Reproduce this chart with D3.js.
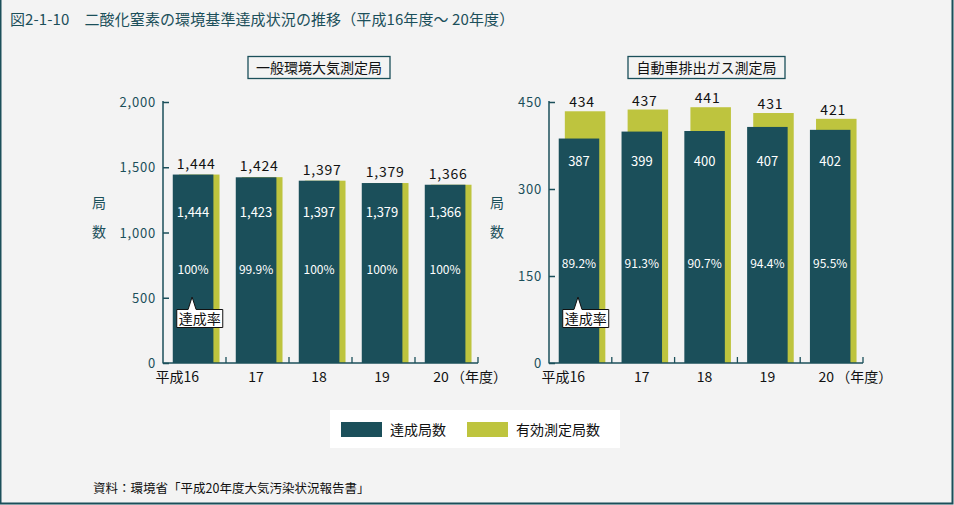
<!DOCTYPE html>
<html><head><meta charset="utf-8">
<script src="https://cdn.jsdelivr.net/npm/d3@7"></script>
<style>
html,body{margin:0;padding:0;background:#f3f3f3;}
svg{display:block;font-family:"Noto Sans CJK JP","Noto Sans",sans-serif;}
</style></head>
<body><svg id="c" width="954" height="505"></svg>
<script>
const years = ["平成16","17","18","19","20"];
const generalValid = [1444,1424,1397,1379,1366];
const generalAchieved = [1444,1423,1397,1379,1366];
const generalRate = ["100%","99.9%","100%","100%","100%"];
const roadValid = [434,437,441,431,421];
const roadAchieved = [387,399,400,407,402];
const roadRate = ["89.2%","91.3%","90.7%","94.4%","95.5%"];
const generalTicks = [0,500,1000,1500,2000];
const roadTicks = [0,150,300,450];

const TEAL = "#1b4f5a", YEL = "#bec43e";
const svg = d3.select("#c");
svg.append("rect").attr("x",0).attr("y",0).attr("width",954).attr("height",505).attr("fill","#f3f3f3");
// border left/right/bottom
svg.append("path").attr("d","M0.5,0 V503.5 H952.5 V0").attr("fill","none").attr("stroke",TEAL).attr("stroke-width",2);

svg.append("text").attr("x",10).attr("y",25).attr("font-size",15).attr("fill",TEAL).attr("letter-spacing",0.1)
  .text("図2-1-10　二酸化窒素の環境基準達成状況の推移（平成16年度～ 20年度）");

function panel(o){
  const g = svg.append("g");
  const x = d3.scaleBand().domain(years).range([o.x0, o.x1]).padding(0);
  const y = d3.scaleLinear().domain([0,o.max]).range([363,102]);
  const bw = x.bandwidth();
  const off = bw*0.155, w = bw*0.645, shift = bw*0.097;
  // panel title box
  g.append("rect").attr("x",o.tx-o.tw/2).attr("y",56.5).attr("width",o.tw).attr("height",22)
    .attr("fill","none").attr("stroke",TEAL).attr("stroke-width",1.3);
  g.append("text").attr("x",o.tx).attr("y",73).attr("text-anchor","middle").attr("font-size",14).attr("fill","#111").text(o.title);
  // y axis label
  g.append("text").attr("x",o.lx).attr("y",208).attr("text-anchor","middle").attr("font-size",14).attr("fill",TEAL).text("局");
  g.append("text").attr("x",o.lx).attr("y",237).attr("text-anchor","middle").attr("font-size",14).attr("fill",TEAL).text("数");
  // bars
  years.forEach((yr,i)=>{
    const bx = x(yr)+off;
    g.append("rect").attr("x",bx+shift).attr("y",y(o.valid[i])).attr("width",w).attr("height",363-y(o.valid[i])).attr("fill",YEL);
    g.append("rect").attr("x",bx).attr("y",y(o.ach[i])).attr("width",w).attr("height",363-y(o.ach[i])).attr("fill",TEAL);
    g.append("text").attr("x",bx+(w+shift)/2).attr("y",y(o.valid[i])-o.topGap).attr("text-anchor","middle").attr("font-size",14).attr("fill","#111")
      .attr("letter-spacing",0.8).text(d3.format(",")(o.valid[i]));
    g.append("text").attr("x",bx+w/2).attr("y",o.vy).attr("text-anchor","middle").attr("font-size",13).attr("fill","#fff")
      .text(d3.format(",")(o.ach[i]));
    g.append("text").attr("x",bx+w/2).attr("y",o.py).attr("text-anchor","middle").attr("font-size",12).attr("fill","#fff")
      .text(o.rate[i]);
    const cx = bx+w/2;
    if(i===0){
      g.append("text").attr("x",cx+6).attr("y",382).attr("text-anchor","end").attr("font-size",14).attr("fill","#111").text(yr);
    } else if(i===years.length-1){
      g.append("text").attr("x",cx-4).attr("y",382).attr("text-anchor","middle").attr("font-size",14).attr("fill","#111").text(yr);
      g.append("text").attr("x",cx+6).attr("y",382).attr("text-anchor","start").attr("font-size",14).attr("fill","#111").text("（年度）");
    } else {
      g.append("text").attr("x",cx).attr("y",382).attr("text-anchor","middle").attr("font-size",14).attr("fill","#111").text(yr);
    }
    if(i===0){
      // callout
      const bl = bx+4, bt = 309.5, bwid = 46, bh = 18;
      const tipx = cx, tipy = 297;
      g.append("path").attr("d",`M${bl},${bt} H${tipx-5} L${tipx-1},${tipy} L${tipx+3},${bt} H${bl+bwid} V${bt+bh} H${bl} Z`)
        .attr("fill","#fff").attr("stroke","#111").attr("stroke-width",1);
      g.append("text").attr("x",bl+bwid/2).attr("y",bt+14.5).attr("text-anchor","middle").attr("font-size",14).attr("fill","#111").text("達成率");
    }
  });
  // y axis
  const ya = d3.axisRight(y).tickValues(o.ticks).tickSize(6).tickFormat("");
  const yg = g.append("g").attr("transform",`translate(${o.x0},0)`).call(ya);
  yg.select(".domain").remove();
  yg.selectAll("line").attr("stroke",TEAL).attr("stroke-width",1.5);
  g.append("line").attr("x1",o.x0).attr("x2",o.x0).attr("y1",101).attr("y2",363.5).attr("stroke",TEAL).attr("stroke-width",1.5);
  o.ticks.forEach(t=>{
    g.append("text").attr("x",o.x0-7).attr("y",y(t)+5).attr("text-anchor","end").attr("font-size",13).attr("fill",TEAL)
      .attr("letter-spacing",0.8).text(d3.format(",")(t));
  });
  // x axis
  g.append("line").attr("x1",o.x0).attr("x2",o.x1).attr("y1",363).attr("y2",363).attr("stroke",TEAL).attr("stroke-width",1.5);
  years.forEach((yr,i)=>{
    const xe = x(yr)+bw;
    g.append("line").attr("x1",xe).attr("x2",xe).attr("y1",363).attr("y2",357).attr("stroke",TEAL).attr("stroke-width",1.3);
  });
}

panel({x0:163,x1:478,max:2000,ticks:generalTicks,valid:generalValid,ach:generalAchieved,rate:generalRate,
  title:"一般環境大気測定局",tx:319,tw:142,lx:99,vy:217,py:274,topGap:6});
panel({x0:549,x1:863,max:450,ticks:roadTicks,valid:roadValid,ach:roadAchieved,rate:roadRate,
  title:"自動車排出ガス測定局",tx:706.5,tw:157,lx:497,vy:166,py:268,topGap:4});

// legend
svg.append("rect").attr("x",330).attr("y",410).attr("width",290).attr("height",38).attr("fill","#fff");
svg.append("rect").attr("x",341).attr("y",422).attr("width",41).attr("height",15).attr("fill",TEAL);
svg.append("text").attr("x",390).attr("y",435).attr("font-size",14).attr("fill","#111").text("達成局数");
svg.append("rect").attr("x",467).attr("y",422).attr("width",41).attr("height",15).attr("fill",YEL);
svg.append("text").attr("x",516).attr("y",435).attr("font-size",14).attr("fill","#111").text("有効測定局数");

svg.append("text").attr("x",93).attr("y",493).attr("font-size",12.5).attr("fill","#111").text("資料：環境省「平成20年度大気汚染状況報告書」");
</script></body></html>
